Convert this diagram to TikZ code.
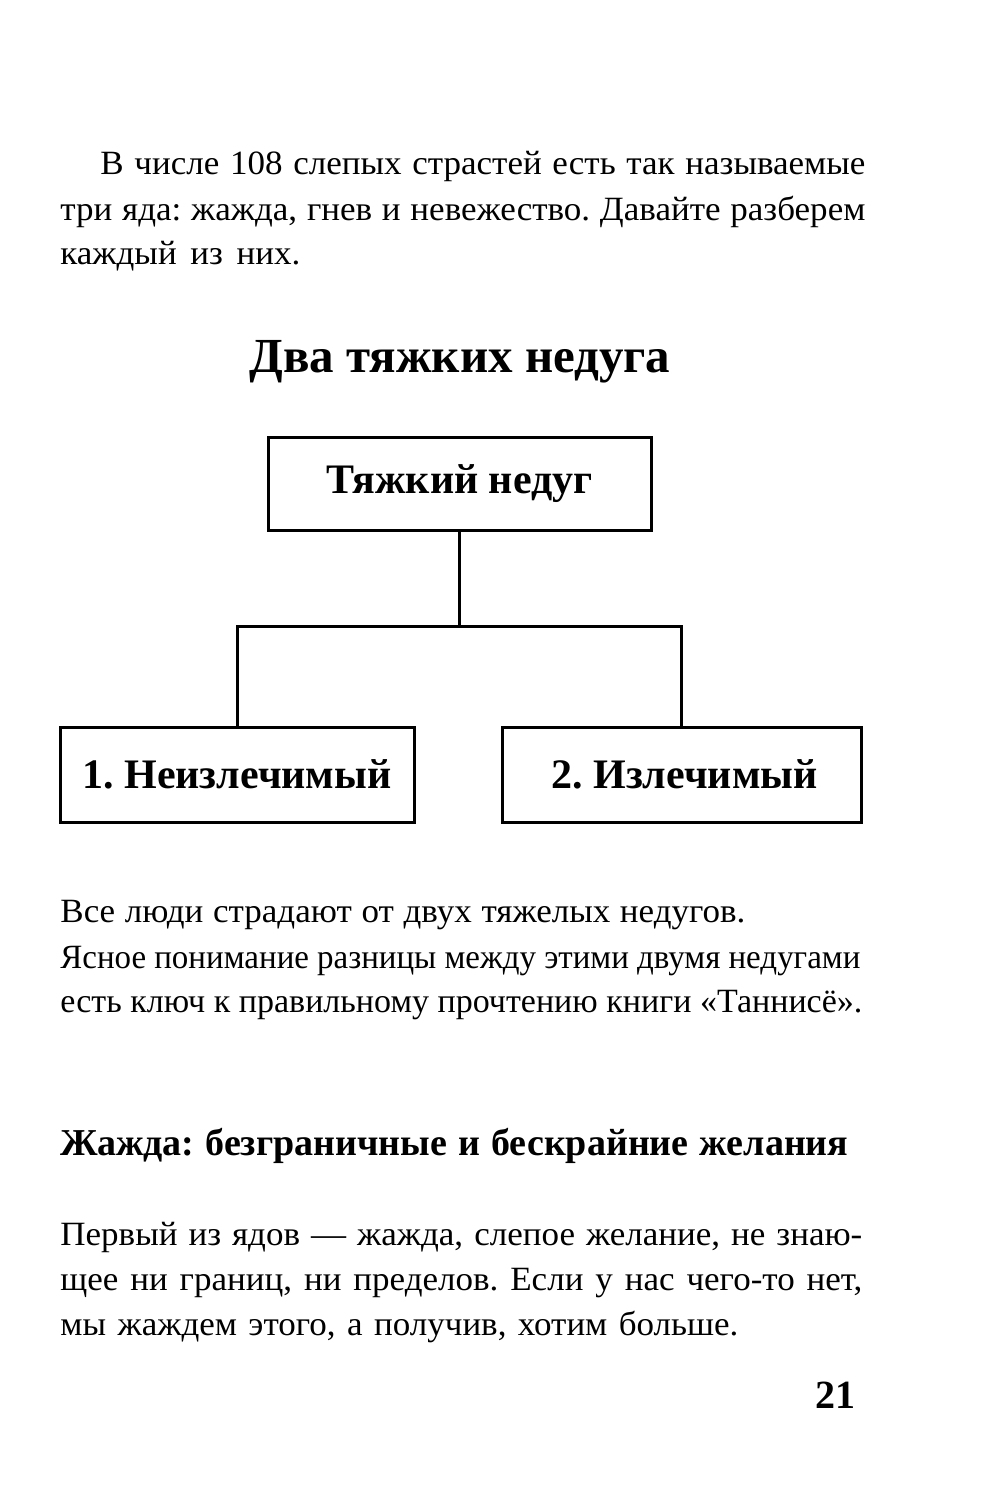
\documentclass[tikz,border=0pt]{standalone}
\usepackage{fontspec}
\setmainfont{Liberation Serif}
\newfontfamily\bodyfam[FakeStretch=1.03]{Liberation Serif}
\newfontfamily\condfam[FakeStretch=0.97]{Liberation Serif}
\newfontfamily\semifam[FakeStretch=1.0]{Liberation Serif}
\newcommand\bodyfont{\bodyfam\fontsize{17}{20}\selectfont}
\newcommand\jline[5]{\node[anchor=base west,inner sep=0pt] (#1) at (#2,#3) {\bodyfont\hbox to #4{\spaceskip=0.25em plus 1fil minus 0.17em\relax #5}};}
\frenchspacing
\begin{document}
\frenchspacing
\begin{tikzpicture}[x=0.5pt,y=-0.5pt,
  box/.style={draw,line width=1.5pt,rectangle,inner sep=0pt,font=\fontsize{21}{25}\selectfont\bfseries},
  conn/.style={line width=1.5pt}]
\useasboundingbox (0,0) rectangle (1000,1494);
\jline{p1a}{100}{174}{382.5pt}{В числе 108 слепых страстей есть так называемые}
\jline{p1b}{60}{220}{402.5pt}{три яда: жажда, гнев и невежество. Давайте разберем}
\jline{p1c}{60}{264}{120pt}{каждый из них.}
\node[anchor=base,inner sep=0pt,font=\fontsize{24.5}{30}\selectfont\bfseries] (title) at (460,372) {Два тяжких недуга};
\node[box,minimum width=191.5pt,minimum height=46.5pt] (top) at (459.5,483.5) {Тяжкий недуг};
\node[box,minimum width=177pt,minimum height=47.5pt] (left) at (237,774.5) {1. Неизлечимый};
\node[box,minimum width=179.5pt,minimum height=47.5pt] (right) at (681.5,774.5) {\hspace{3pt}2. Излечимый};
\coordinate (j) at (459.5,626);
\draw[conn] (top.south) -- (j);
\draw[conn] (left.north) |- (j) -| (right.north);
\jline{p2a}{60}{922}{342.5pt}{Все люди страдают от двух тяжелых недугов.}
\jline{p2b}{60}{968}{400pt}{\condfam\fontsize{17}{20}\selectfont Ясное понимание разницы между этими двумя недугами}
\jline{p2c}{60}{1012}{401pt}{\semifam\fontsize{17}{20}\selectfont есть ключ к правильному прочтению книги «Таннисё».}
\node[anchor=base west,inner sep=0pt,font=\fontsize{19}{22}\selectfont\bfseries] (head) at (60,1155) {\hbox to 394pt{\spaceskip=0.25em plus 1fil minus 0.15em\relax Жажда: безграничные и бескрайние желания}};
\jline{p3a}{60}{1245}{401pt}{Первый из ядов — жажда, слепое желание, не знаю-}
\jline{p3b}{60}{1290}{401pt}{щее ни границ, ни пределов. Если у нас чего-то нет,}
\jline{p3c}{60}{1335}{339pt}{мы жаждем этого, а получив, хотим больше.}
\node[anchor=base east,inner sep=0pt,font=\fontsize{20}{24}\selectfont\bfseries] (pnum) at (856,1408) {21};
\end{tikzpicture}
\end{document}
